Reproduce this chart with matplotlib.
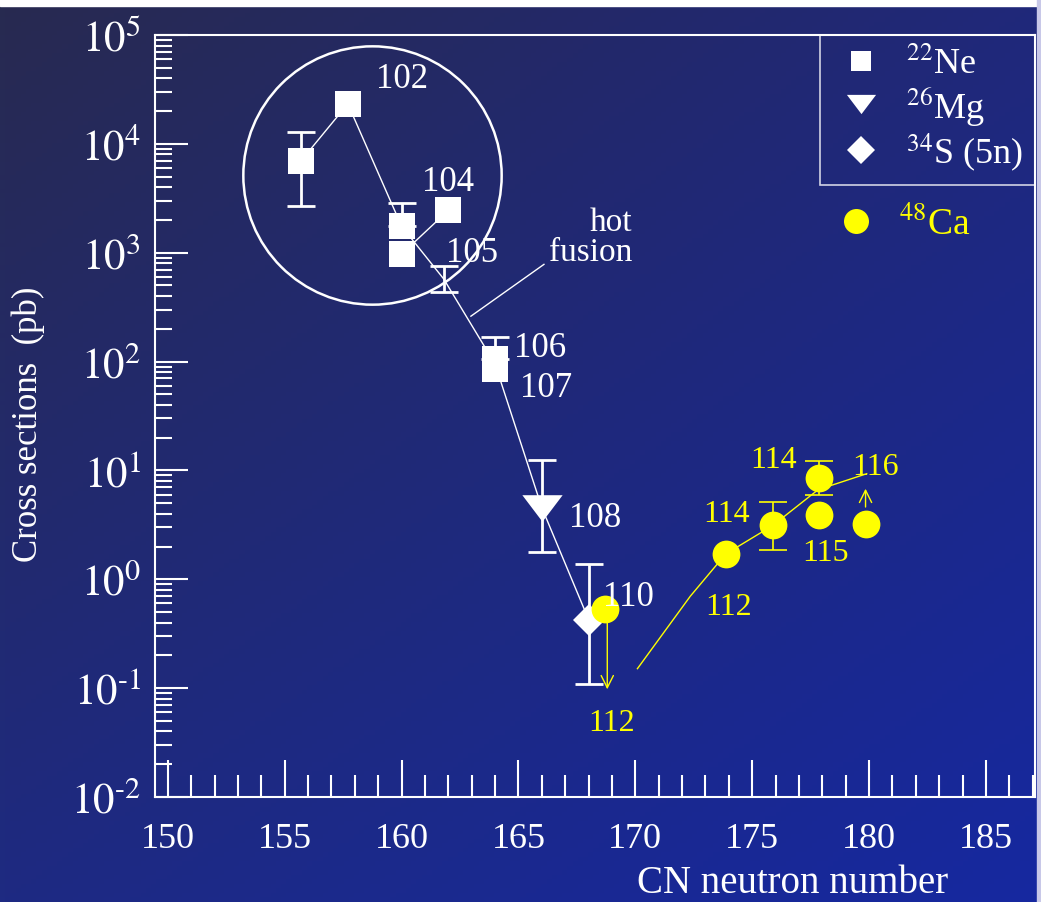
import numpy as np
import matplotlib
matplotlib.use("Agg")
from matplotlib import pyplot as plt
from matplotlib.lines import Line2D

plt.rcParams['font.family'] = ['Liberation Serif', 'DejaVu Serif']
plt.rcParams['mathtext.fontset'] = 'stix'

# 22Ne (hot fusion) points
ne_n = [155.7, 157.7, 160.0, 160.0, 162.0, 164.0, 164.0]
ne_sigma = [7000, 23300, 1750, 970, 2450, 106, 85]

# 26Mg and 34S
mg_n, mg_sigma = [166.0], [4.55]
s_n, s_sigma = [168.0], [0.427]

# white error bars (center, low, high)
werr_n = [155.7, 160.0, 161.8, 164.0, 166.0, 168.0]
werr_mid = [7000, 1750, 575, 106, 4.55, 0.427]
werr_lo = [2680, 1750, 436, 106, 1.78, 0.11]
werr_hi = [12800, 2840, 755, 167, 12.4, 1.37]

# hot fusion guide lines
hot_n = [155.7, 157.7, 160.0, 161.8, 164.0, 166.0, 168.0]
hot_sigma = [7000, 23300, 1750, 575, 95, 4.55, 0.427]
hot2_n = [160.0, 162.0]
hot2_sigma = [970, 2450]

# 48Ca points
ca_n = [168.72, 173.87, 175.88, 177.84, 177.84, 179.85]
ca_sigma = [0.538, 1.71, 3.12, 8.5, 3.93, 3.25]
yerr_n = [175.88, 177.84]
yerr_mid = [3.12, 8.5]
yerr_lo = [1.87, 5.9]
yerr_hi = [5.08, 12.1]

# 48Ca guide curve
ca_curve_n = [170.09, 172.35, 173.87, 175.88, 177.82, 179.9]
ca_curve_sigma = [0.151, 0.698, 1.71, 3.12, 6.65, 9.33]

# labels (text, N, sigma)
white_labels = [("102", 160.02, 40100), ("104", 161.99, 4550), ("105", 163.01, 994),
                ("106", 165.92, 136), ("107", 166.18, 57.4), ("108", 168.28, 3.68),
                ("110", 169.69, 0.694)]
yellow_labels = [("114", 173.92, 4.06), ("114", 175.91, 12.7), ("115", 178.13, 1.75),
                 ("116", 180.27, 10.9), ("112", 173.99, 0.565), ("112", 168.99, 0.0488)]

W, H = 1041, 903
fig = plt.figure(figsize=(W / 100, H / 100), dpi=100)

# background gradient
bg = fig.add_axes([0, 0, 1, 1])
tl = np.array([0x28, 0x2a, 0x50]) / 255
tr = np.array([0x20, 0x28, 0x7a]) / 255
bl = np.array([0x1e, 0x2a, 0x82]) / 255
br = np.array([0x16, 0x28, 0xa0]) / 255
u = np.linspace(0, 1, 200)[None, :, None]
v = np.linspace(0, 1, 200)[:, None, None]
img = (1 - v) * ((1 - u) * tl + u * tr) + v * ((1 - u) * bl + u * br)
bg.imshow(img, aspect='auto', extent=[0, 1, 0, 1], origin='upper')
bg.axhspan(1 - 7 / H, 1, color='white')
bg.axvspan(1 - 4 / W, 1, color='#c8c8e8')
bg.set_xlim(0, 1)
bg.set_ylim(0, 1)
bg.axis('off')

ax = fig.add_axes([155 / W, 1 - 798 / H, 880 / W, 762 / H])
ax.patch.set_alpha(0)
ax.set_yscale('log')
ax.set_xlim(149.45, 187.1)
ax.set_ylim(1e-2, 1e5)

wc = 'white'
yc = '#ffff00'

ax.plot(hot_n, hot_sigma, color=wc, lw=1, zorder=2)
ax.plot(hot2_n, hot2_sigma, color=wc, lw=1, zorder=2)
ax.plot(ca_curve_n, ca_curve_sigma, color=yc, lw=1, zorder=2)

ax.errorbar(werr_n, werr_mid,
            yerr=[np.subtract(werr_mid, werr_lo), np.subtract(werr_hi, werr_mid)],
            fmt='none', ecolor=wc, elinewidth=2, capsize=10, capthick=2, zorder=3)
ax.errorbar(yerr_n, yerr_mid,
            yerr=[np.subtract(yerr_mid, yerr_lo), np.subtract(yerr_hi, yerr_mid)],
            fmt='none', ecolor=yc, elinewidth=1.2, capsize=10, capthick=1.2, zorder=3)

ax.plot(ne_n, ne_sigma, 's', color=wc, ms=19, mew=0, zorder=4)
tri = [(-1, 0.66), (1, 0.66), (0, -0.66)]
ax.plot(mg_n, mg_sigma, marker=tri, ls='none', color=wc, ms=29, mew=0, zorder=4)
ax.plot(s_n, s_sigma, 'D', color=wc, ms=16, mew=0, zorder=4)

# limits for 48Ca
ax.annotate('', xy=(168.8, 0.092), xytext=(168.8, 0.538),
            arrowprops=dict(arrowstyle='->', color=yc, lw=1, mutation_scale=22), zorder=3)
ax.annotate('', xy=(179.85, 7.2), xytext=(179.85, 4.35),
            arrowprops=dict(arrowstyle='->', color=yc, lw=1, mutation_scale=22), zorder=3)

ax.plot(ca_n, ca_sigma, 'o', color=yc, ms=20, mew=0, zorder=5)

# circle around the cold fusion region
ax.plot([158.75], [5160], 'o', ms=186, mfc='none', mec=wc, mew=1.8, zorder=2)

for t, x, y in white_labels:
    ax.text(x, y, t, color=wc, fontsize=25, ha='center', va='center', zorder=6)
for t, x, y in yellow_labels:
    ax.text(x, y, t, color=yc, fontsize=23, ha='center', va='center', zorder=6)

ax.text(0.542, 0.735, 'hot\nfusion', transform=ax.transAxes, color=wc, fontsize=24,
        ha='right', va='center', multialignment='right', linespacing=1.0)
ax.plot([0.442, 0.359], [0.699, 0.631], transform=ax.transAxes, color=wc, lw=1)

for s in ax.spines.values():
    s.set_color(wc)
    s.set_linewidth(1.5)
ax.tick_params(axis='both', which='both', direction='in', colors=wc, width=1.5,
               top=False, right=False)
ax.tick_params(axis='y', which='major', length=24, pad=10, labelsize=31)
ax.tick_params(axis='y', which='minor', length=12)
ax.tick_params(axis='x', which='major', length=27, pad=18, labelsize=26)
ax.tick_params(axis='x', which='minor', length=16)
ax.set_xticks(np.arange(150, 186, 5))
ax.set_xticks(np.arange(150, 188, 1), minor=True)
ax.yaxis.set_minor_locator(matplotlib.ticker.LogLocator(base=10, subs=np.arange(2, 10), numticks=20))
ax.set_yticks([10.0 ** k for k in range(-2, 6)])
ax.set_yticklabels([r'$10^{\text{%d}}$' % k for k in range(-2, 6)])
ax.yaxis.set_minor_formatter(matplotlib.ticker.NullFormatter())

ax.set_xlabel('CN neutron number', color=wc, fontsize=28)
ax.xaxis.set_label_coords(0.725, -0.088)
ax.set_ylabel('Cross sections  (pb)', color=wc, fontsize=25)
ax.yaxis.set_label_coords(-0.125, 0.49)

handles = [Line2D([], [], marker='s', ls='none', color=wc, ms=15, mew=0),
           Line2D([], [], marker=tri, ls='none', color=wc, ms=21, mew=0),
           Line2D([], [], marker='D', ls='none', color=wc, ms=14, mew=0)]
leg = ax.legend(handles, [r'$^{22}$Ne', r'$^{26}$Mg', r'$^{34}$S (5n)'],
                loc='upper right', borderaxespad=0, fontsize=26, frameon=True,
                fancybox=False, edgecolor=wc, facecolor='none', labelcolor=wc,
                handlelength=1.6, handletextpad=0.45, borderpad=0.33, labelspacing=0.08)
leg.get_frame().set_linewidth(1.2)
ax.add_artist(leg)
leg2 = ax.legend([Line2D([], [], marker='o', ls='none', color=yc, ms=18, mew=0)],
                 [r'$^{48}$Ca'], loc='center left', bbox_to_anchor=(0.7455, 0.752),
                 borderaxespad=0, fontsize=27, frameon=False, labelcolor=yc,
                 handlelength=1.6, handletextpad=0.35, borderpad=0.4)

fig.savefig('out.png', dpi=100)
